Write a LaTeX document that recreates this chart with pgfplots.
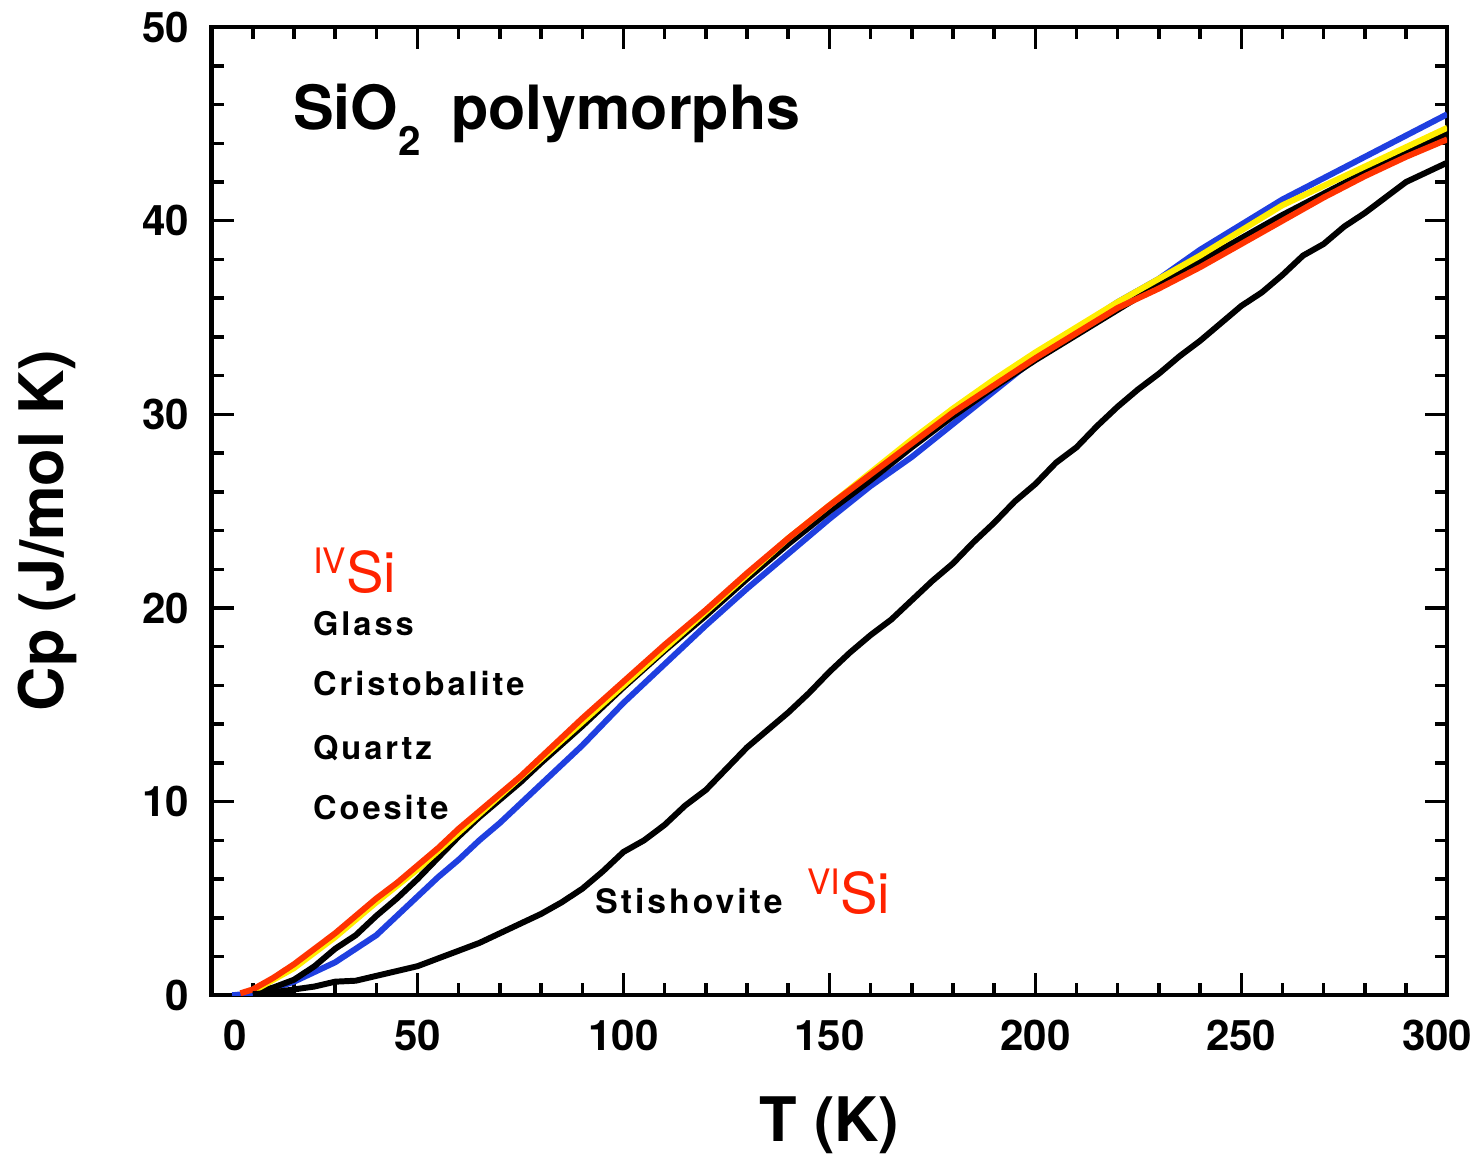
\documentclass[border=0pt]{standalone}
\usepackage{fontspec}
\setmainfont{TeX Gyre Heros}
\newfontfamily\spaced[LetterSpace=9]{TeX Gyre Heros}
\usepackage{pgfplots}
\pgfplotsset{compat=1.18}
\definecolor{cpred}{HTML}{FF3300}
\definecolor{cpyellow}{HTML}{FFEE00}
\definecolor{cpblue}{HTML}{1F3FE0}
\definecolor{sired}{HTML}{FF2200}

\pgfplotstableread{
T Cp
5 0.0
10 0.1
15 0.35
20 0.7
25 1.2
30 1.7
35 2.4
40 3.1
45 4.1
50 5.1
55 6.1
60 7.0
65 8.0
70 8.9
75 9.9
80 10.9
90 12.9
100 15.1
110 17.1
120 19.1
130 21.0
140 22.8
150 24.6
160 26.3
170 27.8
180 29.5
190 31.2
200 32.9
210 34.4
220 35.8
230 37.0
240 38.5
250 39.8
260 41.1
270 42.2
280 43.3
290 44.4
300 45.5
}\blueT

\pgfplotstableread{
T Cp
10 0.1
15 0.4
20 0.8
25 1.5
30 2.4
35 3.1
40 4.1
45 5.0
50 6.0
55 7.1
60 8.2
65 9.2
70 10.1
75 11.0
80 12.0
90 13.9
100 15.9
110 17.8
120 19.6
130 21.5
140 23.3
150 25.0
160 26.6
170 28.3
180 29.9
190 31.4
200 32.8
210 34.1
220 35.4
230 36.7
240 37.9
250 39.1
260 40.3
270 41.4
280 42.5
290 43.6
300 44.5
}\blackT

\pgfplotstableread{
T Cp
10 0.2
20 1.4
30 3.0
40 4.8
50 6.5
60 8.4
70 10.3
80 12.2
90 14.1
100 16.0
110 17.9
120 19.8
130 21.7
140 23.6
150 25.3
160 27.0
170 28.7
180 30.3
190 31.8
200 33.2
210 34.5
220 35.8
230 37.0
240 38.2
250 39.5
260 40.8
270 41.8
280 42.8
290 43.8
300 44.8
}\yellowT

\pgfplotstableread{
T Cp
7 0.1
10 0.3
15 0.9
20 1.6
25 2.4
30 3.2
35 4.1
40 5.0
45 5.8
50 6.7
55 7.6
60 8.6
65 9.5
70 10.4
75 11.3
80 12.3
90 14.3
100 16.2
110 18.1
120 19.9
130 21.8
140 23.6
150 25.3
160 26.9
170 28.5
180 30.1
190 31.5
200 32.9
210 34.2
220 35.5
230 36.5
240 37.6
250 38.8
260 40.0
270 41.2
280 42.3
290 43.3
300 44.2
}\redT

\pgfplotstableread{
T Cp
10 0.05
15 0.15
20 0.3
25 0.45
30 0.7
35 0.75
40 1.0
45 1.25
50 1.5
55 1.9
60 2.3
65 2.7
70 3.2
75 3.7
80 4.2
85 4.8
90 5.5
95 6.4
100 7.4
105 8.0
110 8.8
115 9.8
120 10.6
125 11.7
130 12.8
135 13.7
140 14.6
145 15.6
150 16.7
155 17.7
160 18.6
165 19.4
170 20.4
175 21.4
180 22.3
185 23.4
190 24.4
195 25.5
200 26.4
205 27.5
210 28.3
215 29.4
220 30.4
225 31.3
230 32.1
235 33.0
240 33.8
245 34.7
250 35.6
255 36.3
260 37.2
265 38.2
270 38.8
275 39.7
280 40.4
285 41.2
290 42.0
295 42.5
300 43.0
}\stishT

\begin{document}
\begin{tikzpicture}
\begin{axis}[
    width=12.38cm, height=9.70cm,
    scale only axis,
    xmin=0, xmax=300, ymin=0, ymax=50,
    xtick={0,50,...,300},
    xticklabels={\phantom{00}0,50,100,150,200,250,\hspace*{-5.7pt}300},
    minor xtick={10,20,...,290},
    ytick={0,10,...,50},
    minor ytick={2,4,...,48},
    tick align=inside,
    major tick length=0.22cm,
    minor tick length=0.12cm,
    tick style={line width=1pt, black},
    axis line style={line width=1.2pt},
    ticklabel style={font=\fontsize{12}{14}\selectfont\bfseries},
    /pgf/number format/assume math mode=true,
    xticklabel style={yshift=-0.12cm},
    yticklabel style={xshift=-0.1cm},
    xlabel={T (K)},
    ylabel={Cp (J/mol K)},
    label style={font=\fontsize{17.5}{20}\selectfont\bfseries},
    xlabel style={at={(axis description cs:0.5,-0.134)}, anchor=center},
    ylabel style={at={(axis description cs:-0.133,0.48)}, anchor=center},
    clip=true,
  ]
  \addplot[cpblue, line width=1.7pt] table[x=T, y=Cp] {\blueT};
  \addplot[black, line width=1.7pt] table[x=T, y=Cp] {\blackT};
  \addplot[cpyellow, line width=1.7pt] table[x=T, y=Cp] {\yellowT};
  \addplot[cpred, line width=1.7pt] table[x=T, y=Cp] {\redT};
  \addplot[black, line width=1.7pt] table[x=T, y=Cp] {\stishT};

  \node[anchor=base west, font=\fontsize{17.4}{20}\selectfont\bfseries, inner sep=0pt]
    at (axis cs:19.6,44.7) {SiO\raisebox{-0.42em}{\fontsize{11.5}{11}\selectfont 2}\hspace{0.5em}polymorphs};
  \node[anchor=base west, text=sired, inner sep=0pt]
    at (axis cs:24.5,20.8) {\raisebox{0.55em}{\fontsize{10}{10}\selectfont IV}\fontsize{16}{17}\selectfont Si};
  \node[anchor=base west, inner sep=0pt, font=\fontsize{9.3}{11}\selectfont\spaced\bfseries]
    at (axis cs:24.5,18.6) {Glass};
  \node[anchor=base west, inner sep=0pt, font=\fontsize{9.3}{11}\selectfont\spaced\bfseries]
    at (axis cs:24.5,15.5) {Cristobalite};
  \node[anchor=base west, inner sep=0pt, font=\fontsize{9.3}{11}\selectfont\spaced\bfseries]
    at (axis cs:24.5,12.2) {Quartz};
  \node[anchor=base west, inner sep=0pt, font=\fontsize{9.3}{11}\selectfont\spaced\bfseries]
    at (axis cs:24.5,9.1) {Coesite};
  \node[anchor=base west, inner sep=0pt, font=\fontsize{9.6}{11}\selectfont\spaced\bfseries]
    at (axis cs:93,4.2) {Stishovite};
  \node[anchor=base west, text=sired, inner sep=0pt]
    at (axis cs:144.4,4.2) {\raisebox{0.55em}{\fontsize{10}{10}\selectfont VI}\fontsize{16}{17}\selectfont Si};
\end{axis}
\path ([xshift=-2.12cm,yshift=-1.67cm]current axis.south west)
  rectangle ([xshift=0.34cm,yshift=0.23cm]current axis.north east);
\end{tikzpicture}
\end{document}
